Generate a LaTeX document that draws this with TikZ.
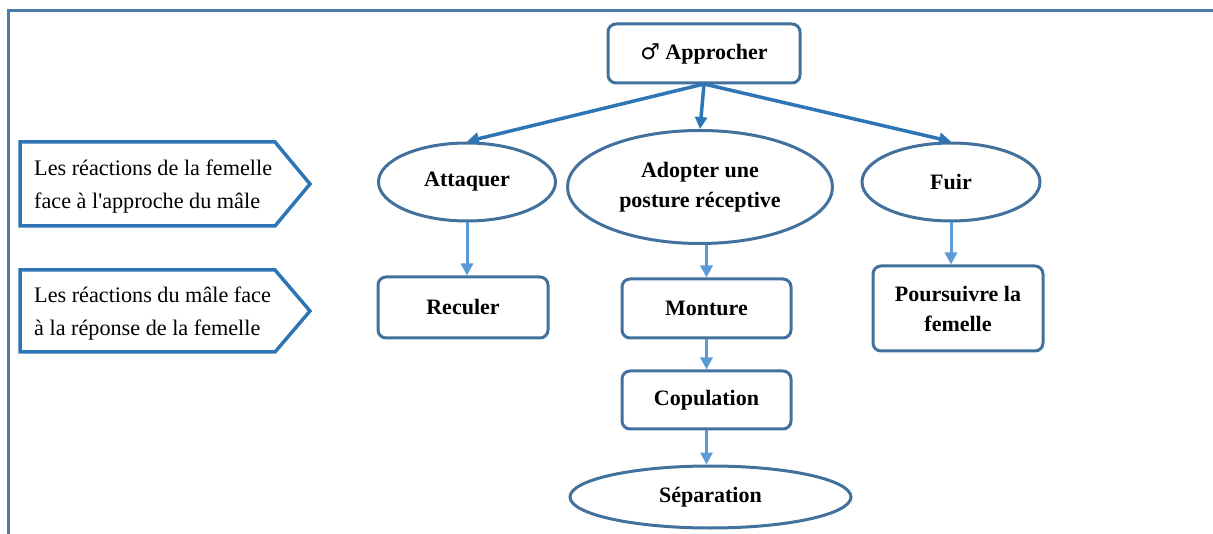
\documentclass[tikz,border=0pt]{standalone}
\usepackage{fontspec}
\setmainfont{Liberation Serif}
\newfontfamily\symfnt{DejaVu Sans}
\usetikzlibrary{shapes.geometric,arrows.meta}
\definecolor{boxblue}{HTML}{41719C}
\definecolor{arrdark}{HTML}{2E75B6}
\definecolor{arrlight}{HTML}{5B9BD5}
\definecolor{framec}{HTML}{4A7AAB}
\definecolor{tagblue}{HTML}{2F74B5}
\tikzset{
  x=1pt,y=-1pt,
  every node/.style={font=\fontsize{22}{30}\selectfont},
  rbox/.style={draw=boxblue,line width=3pt,rounded corners=8pt,fill=white,inner sep=0pt,font=\fontsize{22}{30}\selectfont\bfseries,align=center},
  ebox/.style={draw=boxblue,line width=3pt,ellipse,fill=white,inner sep=0pt,font=\fontsize{22}{30}\selectfont\bfseries,align=center},
  toparr/.style={draw=arrdark,line width=3.5pt,-{Triangle[length=12pt,width=12pt]}},
  lowarr/.style={draw=arrlight,line width=3pt,-{Triangle[length=12pt,width=12pt]}},
  tagshape/.style={draw=tagblue,line width=3.5pt,fill=white},
  tagtext/.style={anchor=west,align=left,inner sep=0pt,font=\fontsize{22.2}{33}\selectfont}
}
\begin{document}
\begin{tikzpicture}
\useasboundingbox (0,0) rectangle (1213,534);
% frame
\draw[framec,line width=3pt] (1213,11) -- (8,11) -- (8,534);
% left tags
\draw[tagshape] (20,142) -- (275,142) -- (310,184) -- (275,226) -- (20,226) -- cycle;
\node[tagtext] (t1) at (34,187) {Les réactions de la femelle\\face à l\textquotesingle approche du mâle};
\draw[tagshape] (20,270) -- (275,270) -- (310,311) -- (275,352) -- (20,352) -- cycle;
\node[tagtext] (t2) at (34,314) {Les réactions du mâle face\\à la réponse de la femelle};
% nodes
\node[rbox,minimum width=192pt,minimum height=59pt] (app) at (704,53.5) {{\symfnt\mdseries ♂} Approcher};
\node[ebox,minimum width=177pt,minimum height=78pt] (att) at (467,182) {Attaquer};
\node[ebox,minimum width=265pt,minimum height=113pt] (ado) at (700,187) {Adopter une\\posture réceptive};
\node[ebox,minimum width=178pt,minimum height=78pt] (fui) at (951,182) {Fuir};
\node[rbox,minimum width=170pt,minimum height=61pt] (rec) at (463,307.5) {Reculer};
\node[rbox,minimum width=169pt,minimum height=59pt] (mon) at (706.5,308.5) {Monture};
\node[rbox,minimum width=169pt,minimum height=58pt] (cop) at (706.5,400) {Copulation};
\node[ebox,minimum width=281pt,minimum height=62pt] (sep) at (710.5,497) {Séparation};
\node[rbox,minimum width=170pt,minimum height=85pt] (pou) at (958,308.5) {Poursuivre la\\femelle};
% top arrows
\coordinate (appb) at (704,84);
\draw[toparr] (appb) -- (att.north);
\draw[toparr] (appb) -- (ado.north);
\draw[toparr] (appb) -- (fui.north);
% lower arrows
\draw[lowarr] (att.south) -- (att.south |- rec.north);
\draw[lowarr] (ado.south -| mon.north) -- (mon.north);
\draw[lowarr] (mon.south) -- (cop.north);
\draw[lowarr] (cop.south) -- (cop.south |- sep.north);
\draw[lowarr] (fui.south) -- (fui.south |- pou.north);
\end{tikzpicture}
\end{document}
